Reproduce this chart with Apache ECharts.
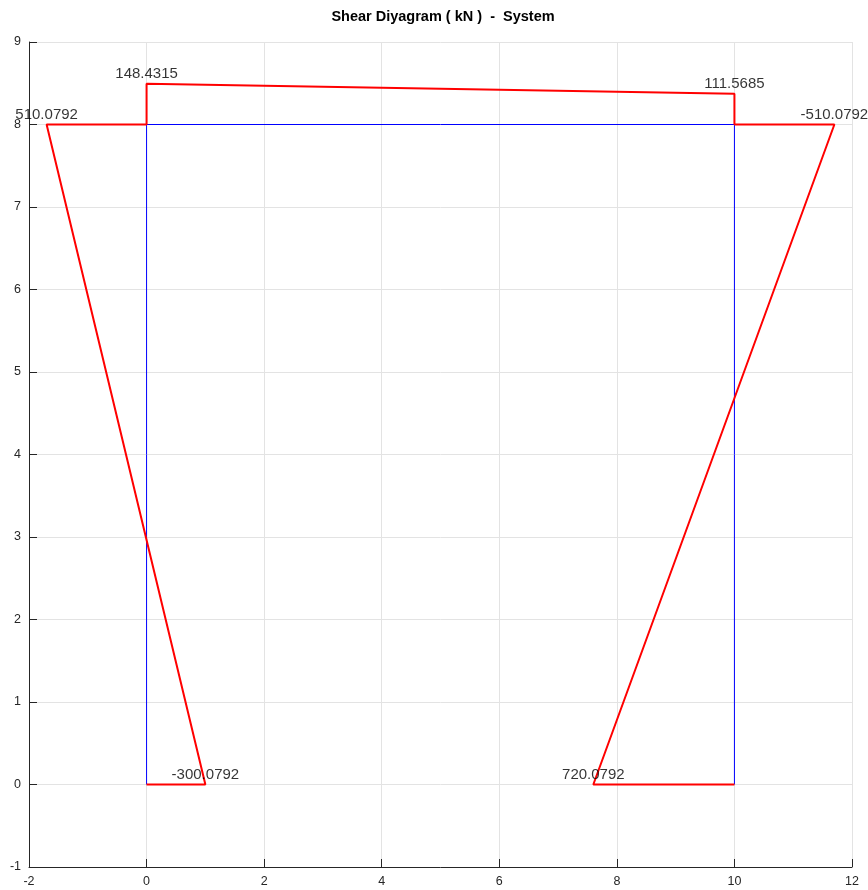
<!DOCTYPE html>
<html>
<head>
<meta charset="utf-8">
<script src="https://cdn.jsdelivr.net/npm/echarts@6/dist/echarts.min.js"></script>
<style>
  html, body { margin: 0; padding: 0; background: #fff; }
  #chart { width: 868px; height: 890px; }
</style>
</head>
<body>
<div id="chart"></div>
<script>
// Frame geometry (m): two columns and a beam
const frameX = [0, 0, 10, 10];
const frameY = [0, 8, 8, 0];

// Shear values (kN) at member ends
const leftColShear = [-300.0792, 510.0792];   // bottom, top  (x = 0)
const beamShear = [148.4315, 111.5685];       // left, right (y = 8)
const rightColShear = [-510.0792, 720.0792];  // top, bottom (x = 10)

// Drawing scale: kN -> m offset
const shearScale = 1 / 300;

// Left column: offset drawn along -x
const leftBase = 0, colBottom = 0, colTop = 8, beamY = 8, beamL = 0, beamR = 10;
const lcBot = [leftBase - leftColShear[0] * shearScale, colBottom];
const lcTop = [leftBase - leftColShear[1] * shearScale, colTop];
// Beam: offset drawn along +y
const bmL = [beamL, beamY + beamShear[0] * shearScale];
const bmR = [beamR, beamY + beamShear[1] * shearScale];
// Right column: offset drawn along -x
const rcTop = [beamR - rightColShear[0] * shearScale, colTop];
const rcBot = [beamR - rightColShear[1] * shearScale, colBottom];

const diagram = [
  [leftBase, colBottom], lcBot, lcTop, [leftBase, colTop],
  bmL, bmR, [beamR, beamY],
  rcTop, rcBot, [beamR, colBottom]
];

const labels = [
  { value: [lcTop[0], lcTop[1]], text: leftColShear[1] },
  { value: [bmL[0], bmL[1]], text: beamShear[0] },
  { value: [bmR[0], bmR[1]], text: beamShear[1] },
  { value: [rcTop[0], rcTop[1]], text: rightColShear[0] },
  { value: [lcBot[0], lcBot[1]], text: leftColShear[0] },
  { value: [rcBot[0], rcBot[1]], text: rightColShear[1] }
];

const axisColor = '#262626';
const gridColor = '#e3e3e3';
const font = '"Liberation Sans", Arial, Helvetica, sans-serif';

const chart = echarts.init(document.getElementById('chart'), null, { renderer: 'canvas' });
chart.setOption({
  animation: false,
  backgroundColor: '#ffffff',
  title: {
    text: 'Shear Diyagram ( kN )  -  System',
    left: 438, top: 4, textAlign: 'center',
    textStyle: { fontFamily: font, fontSize: 14.5, fontWeight: 'bold', color: '#000' }
  },
  grid: { left: 29, right: 16, top: 42, bottom: 23, containLabel: false },
  xAxis: {
    type: 'value', min: -2, max: 12, interval: 2, position: 'bottom',
    axisLine: { show: true, onZero: false, lineStyle: { color: axisColor, width: 1 } },
    axisTick: { show: true, inside: true, length: 8, lineStyle: { color: axisColor } },
    axisLabel: { color: axisColor, fontFamily: font, fontSize: 12.5, margin: 8 },
    splitLine: { show: true, lineStyle: { color: gridColor, width: 1 } }
  },
  yAxis: {
    type: 'value', min: -1, max: 9, interval: 1, position: 'left',
    axisLine: { show: true, onZero: false, lineStyle: { color: axisColor, width: 1 } },
    axisTick: { show: true, inside: true, length: 8, lineStyle: { color: axisColor } },
    axisLabel: { color: axisColor, fontFamily: font, fontSize: 12.5, margin: 8 },
    splitLine: { show: true, lineStyle: { color: gridColor, width: 1 } }
  },
  series: [
    {
      name: 'frame', type: 'line', data: frameX.map((x, i) => [x, frameY[i]]),
      symbol: 'none', lineStyle: { color: '#0000ff', width: 1 }, z: 2
    },
    {
      name: 'shear', type: 'line', data: diagram,
      symbol: 'none', lineStyle: { color: '#ff0000', width: 2 }, z: 3
    },
    {
      name: 'values', type: 'scatter', symbolSize: 0, z: 4,
      data: labels.map(l => ({ value: l.value, text: l.text })),
      label: {
        show: true, position: 'top', distance: 2,
        fontFamily: font, fontSize: 15, color: '#000000',
        formatter: p => p.data.text.toFixed(4)
      }
    }
  ]
});
</script>
</body>
</html>
